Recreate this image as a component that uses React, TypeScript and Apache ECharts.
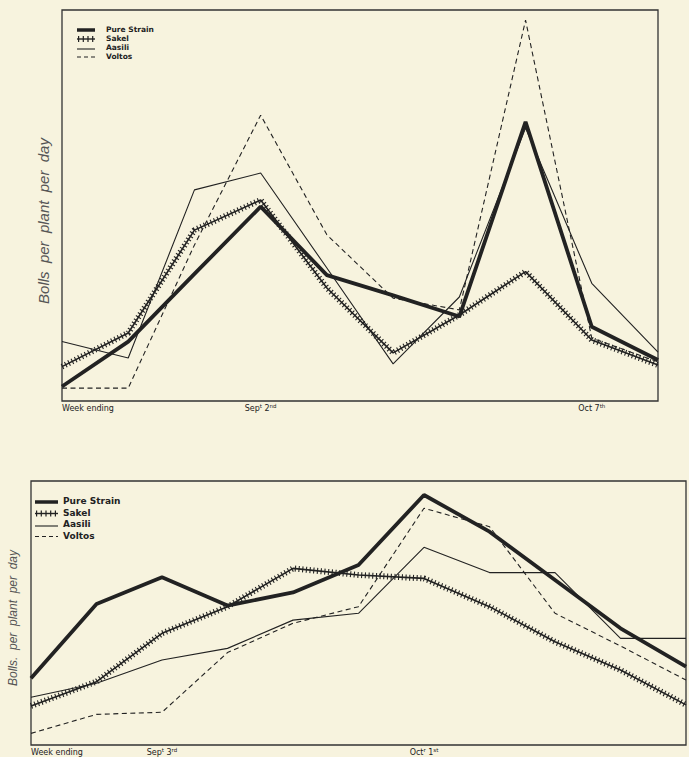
import React, { useEffect, useRef } from 'react';
import * as echarts from 'echarts';

// ---- Upper chart (weeks ending Aug 12 ... Oct 14) ----
const topWeeks = ['Aug 12', 'Aug 19', 'Aug 26', 'Sep 2', 'Sep 9', 'Sep 16', 'Sep 23', 'Sep 30', 'Oct 7', 'Oct 14'];
const topTickLabels = ['Week ending', '', '', 'Sept 2nd', '', '', '', '', 'Oct 7th', ''];
const topPure = [3.7, 15.2, 32.5, 49.7, 32.2, 27.0, 21.6, 71.4, 19.0, 10.5];
const topSakel = [8.8, 17.4, 43.7, 51.4, 28.9, 12.3, 22.0, 33.1, 15.6, 9.2];
const topAssili = [15.2, 11.0, 54.0, 58.3, 34.0, 9.5, 26.6, 69.8, 30.1, 12.5];
const topVoltos = [3.3, 3.3, 39.9, 73.1, 42.5, 26.3, 23.3, 97.4, 16.1, 10.0];

// ---- Lower chart (weeks ending Aug 20 ... Oct 29) ----
const bottomWeeks = ['Aug 20', 'Aug 27', 'Sep 3', 'Sep 10', 'Sep 17', 'Sep 24', 'Oct 1', 'Oct 8', 'Oct 15', 'Oct 22', 'Oct 29'];
const bottomTickLabels = ['Week ending', '', 'Sept 3rd', '', '', '', 'Octr 1st', '', '', '', ''];
const botPure = [25.3, 53.4, 63.5, 52.8, 57.8, 68.2, 94.7, 80.8, 62.5, 44.2, 29.7];
const botSakel = [14.8, 24.0, 42.3, 52.4, 66.9, 64.4, 63.1, 52.4, 39.1, 28.4, 15.2];
const botAssili = [18.1, 23.4, 32.2, 36.6, 47.3, 49.9, 74.9, 65.3, 65.3, 40.4, 40.4];
const botVoltos = [4.4, 11.6, 12.4, 35.0, 46.1, 52.4, 89.7, 82.7, 49.9, 37.5, 24.6];

const seriesNames = ['Pure Strain', 'Sakel', 'Aasili', 'Voltos'];
const yTitles = ['Bolls  per  plant  per  day', 'Bolls.  per  plant  per  day'];

const BG = '#f7f3de';
const INK = '#222222';
const FONT = '"Liberation Sans", Arial, sans-serif';
const WIDE = '"DejaVu Sans", "Liberation Sans", sans-serif';

function richLabel(t: string): string {
  if (!t) return '';
  return t
    .split(' ')
    .map((w) => {
      if (w === 'Sept') return '{n|Sep}{s|t}';
      if (w === 'Octr') return '{n|Oct}{s|r}';
      const m = w.match(/^(\d+)(st|nd|rd|th)$/);
      if (m) return `{n|${m[1]}}{s|${m[2]}}`;
      return `{n|${w}}`;
    })
    .join('{n| }');
}

function xAxisFor(gridIndex: number, weeks: string[], labels: string[], size: number) {
  return {
    type: 'category',
    gridIndex,
    boundaryGap: false,
    data: weeks.map((w, i) => (i === 0 ? { value: w, textStyle: { align: 'left' } } : w)),
    axisLine: { show: false },
    axisTick: { show: false },
    splitLine: { show: false },
    axisLabel: {
      interval: 0,
      margin: 2,
      formatter: (_v: string, i: number) => richLabel(labels[i]),
      rich: {
        n: { fontSize: size, fontFamily: WIDE, color: INK, lineHeight: 11 },
        s: { fontSize: size - 2.5, fontFamily: WIDE, color: INK, lineHeight: 6, verticalAlign: 'top' },
      },
    },
  };
}

function yAxisFor(gridIndex: number) {
  return {
    type: 'value',
    gridIndex,
    min: 0,
    max: 100,
    axisLine: { show: false },
    axisTick: { show: false },
    axisLabel: { show: false },
    splitLine: { show: false },
  };
}

function seriesFor(idx: number, pure: number[], sakel: number[], assili: number[], voltos: number[]) {
  const base = { type: 'line', xAxisIndex: idx, yAxisIndex: idx, symbol: 'none', silent: true };
  return [
    { ...base, name: seriesNames[2], data: assili, z: 2, lineStyle: { color: INK, width: 1.1 } },
    { ...base, name: seriesNames[3], data: voltos, z: 2, lineStyle: { color: INK, width: 1.1, type: [5, 3.5] } },
    { ...base, name: seriesNames[1], data: sakel, z: 3, lineStyle: { color: INK, width: 1.6 } },
    { ...base, name: seriesNames[1] + ' ticks', data: sakel, z: 3, lineStyle: { color: INK, width: 6, type: [1.1, 2.6], cap: 'butt' } },
    { ...base, name: seriesNames[0], data: pure, z: 4, lineStyle: { color: INK, width: 3.8 } },
  ];
}

function legendFor(symX1: number, symX2: number, textX: number, rows: number[], fs: number) {
  const els: any[] = [];
  rows.forEach((y, i) => {
    const ly = y + 1;
    if (i === 0) {
      els.push({ type: 'line', shape: { x1: symX1, y1: ly, x2: symX2, y2: ly }, style: { stroke: INK, lineWidth: 3.5 } });
    } else if (i === 1) {
      els.push({ type: 'line', shape: { x1: symX1, y1: ly, x2: symX2, y2: ly }, style: { stroke: INK, lineWidth: 1.4 } });
      els.push({ type: 'line', shape: { x1: symX1 + 1, y1: ly, x2: symX2, y2: ly }, style: { stroke: INK, lineWidth: 6, lineDash: [1.2, 3.5] } });
    } else if (i === 2) {
      els.push({ type: 'line', shape: { x1: symX1, y1: ly + 1, x2: symX2, y2: ly + 1 }, style: { stroke: INK, lineWidth: 1.1 } });
    } else {
      els.push({ type: 'line', shape: { x1: symX1, y1: ly, x2: symX2, y2: ly }, style: { stroke: INK, lineWidth: 1.1, lineDash: [4, 3] } });
    }
    els.push({
      type: 'text',
      x: textX,
      y,
      style: {
        text: seriesNames[i],
        fontSize: fs,
        fontFamily: WIDE,
        fontWeight: 'bold',
        fill: INK,
        align: 'left',
        verticalAlign: 'middle',
      },
    });
  });
  return els;
}

export default function App() {
  const ref = useRef<HTMLDivElement>(null);

  useEffect(() => {
    if (!ref.current) return;
    const chart = echarts.init(ref.current, null, { renderer: 'svg' });
    const option: any = {
      animation: false,
      backgroundColor: BG,
      grid: [
        { left: 62, top: 10, width: 596, height: 391, show: true, borderColor: '#333', borderWidth: 1.3, backgroundColor: 'transparent' },
        { left: 31, top: 481, width: 659, height: 264, show: true, borderColor: '#333', borderWidth: 1.3, backgroundColor: 'transparent' },
      ],
      xAxis: [xAxisFor(0, topWeeks, topTickLabels, 8), xAxisFor(1, bottomWeeks, bottomTickLabels, 8)],
      yAxis: [yAxisFor(0), yAxisFor(1)],
      series: [
        ...seriesFor(0, topPure, topSakel, topAssili, topVoltos),
        ...seriesFor(1, botPure, botSakel, botAssili, botVoltos),
      ],
      graphic: [
        ...legendFor(77, 95, 106, [29, 38, 47, 56], 7.5),
        ...legendFor(35, 58, 63, [501, 512.5, 524, 535.5], 9),
        {
          type: 'text',
          x: 43,
          y: 221,
          rotation: Math.PI / 2,
          style: { text: yTitles[0], fontSize: 15, fontStyle: 'italic', fontFamily: FONT, fill: '#555', align: 'center', verticalAlign: 'middle' },
        },
        {
          type: 'text',
          x: 13,
          y: 618,
          rotation: Math.PI / 2,
          style: { text: yTitles[1], fontSize: 12, fontStyle: 'italic', fontFamily: FONT, fill: '#555', align: 'center', verticalAlign: 'middle' },
        },
      ],
    };
    chart.setOption(option);
    return () => chart.dispose();
  }, []);

  return (
    <div
      ref={ref}
      style={{ position: 'fixed', left: 0, top: 0, width: 689, height: 757, background: BG }}
    />
  );
}
